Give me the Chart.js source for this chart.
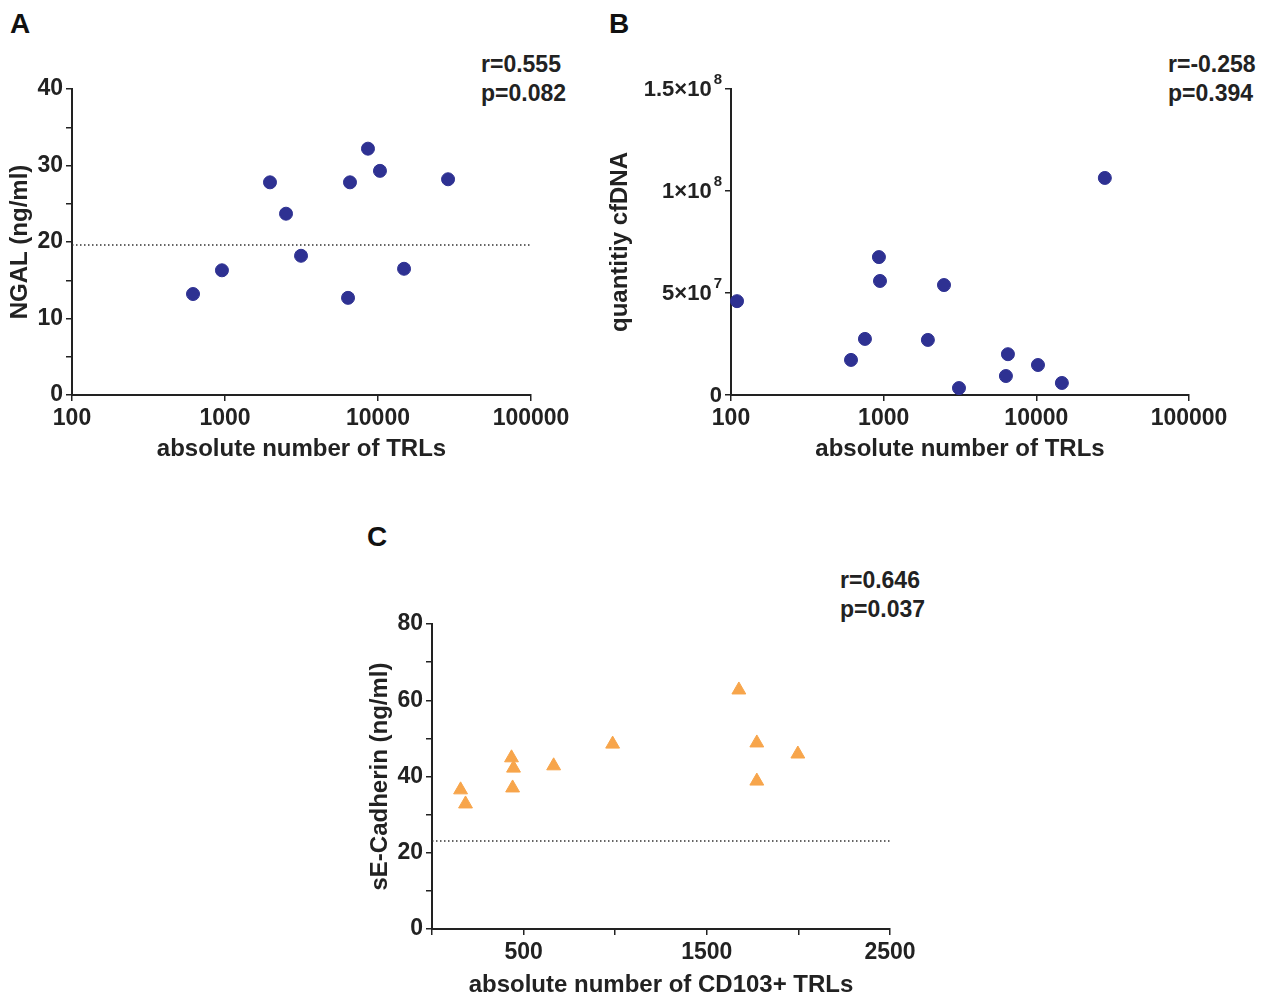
<!DOCTYPE html>
<html lang="en">
<head>
  <meta charset="UTF-8" />
  <title>TRL correlations</title>
  <script src="https://cdn.jsdelivr.net/npm/chart.js"></script>
  <style>
    body {
      margin: 0;
      width: 1272px;
      height: 993px;
      overflow: hidden;
      background: #fff;
      font-family: 'Liberation Sans', Arial, sans-serif;
      color: #222;
      position: relative;
    }
    canvas { position: absolute; }
    .letter {
      position: absolute;
      font-size: 28px;
      line-height: 28px;
      font-weight: bold;
      color: #111;
    }
    .stats {
      position: absolute;
      font-size: 23px;
      line-height: 29px;
      font-weight: bold;
      color: #222;
      white-space: nowrap;
    }
  </style>
</head>
<body>
  <div class="letter" style="left:10px; top:10px;">A</div>
  <div class="letter" style="left:609px; top:10px;">B</div>
  <div class="letter" style="left:367px; top:523px;">C</div>

  <div class="stats" style="left:481px; top:50px;">r=0.555<br>p=0.082</div>
  <div class="stats" style="left:1168px; top:50px;">r=-0.258<br>p=0.394</div>
  <div class="stats" style="left:840px; top:566px;">r=0.646<br>p=0.037</div>

  <canvas id="chartA" width="600" height="470" style="left:0; top:0;"></canvas>
  <canvas id="chartB" width="672" height="470" style="left:600px; top:0;"></canvas>
  <canvas id="chartC" width="580" height="490" style="left:360px; top:510px;"></canvas>

  <script>
    // panel A - NGAL vs TRLs
    const aX = [618, 955, 1968, 2505, 3140, 6370, 6560, 8600, 10300, 14800, 28700];
    const aY = [13.2, 16.3, 27.8, 23.7, 18.2, 12.7, 27.8, 32.2, 29.3, 16.5, 28.2];
    const aCutoff = 19.6;

    // panel B - cfDNA vs TRLs
    const bX = [109.5, 611, 754, 931, 946, 1948, 2484, 3114, 6320, 6515, 10250, 14700, 28100];
    const bY = [4.6e7, 1.72e7, 2.75e7, 6.76e7, 5.59e7, 2.7e7, 5.39e7, 3.4e6, 9.3e6, 2.0e7, 1.47e7, 5.9e6, 1.064e8];
    const bYTickValues = [0, 5e7, 1e8, 1.5e8];
    const bYTickBase = ['0', '5×10', '1×10', '1.5×10'];
    const bYTickExp = ['', '7', '8', '8'];

    // panel C - sE-Cadherin vs CD103+ TRLs
    const cX = [156, 183, 434, 445, 440, 664, 986, 1675, 1773, 1773, 1997];
    const cY = [36.5, 32.8, 44.9, 42.2, 37.0, 42.8, 48.5, 62.7, 48.8, 38.8, 45.9];
    const cCutoff = 23.1;
    const cXLabels = [500, 1500, 2500];

    const logTicks = [100, 1000, 10000, 100000];

    const ink = '#222';
    const blue = '#2E3192';
    const orange = '#F7A54B';
    const family = "'Liberation Sans', Arial, sans-serif";
    const tickFont = { family: family, size: 23, weight: 'bold' };
    const titleFont = { family: family, size: 24, weight: 'bold' };
    const tickLen = 6;
    const tickPad = 3;

    Chart.defaults.animation = false;
    Chart.defaults.color = ink;

    function toPoints(xs, ys) {
      return xs.map((x, i) => ({ x: x, y: ys[i] }));
    }

    function axisStyle() {
      return {
        grid: { display: true, drawOnChartArea: false, drawTicks: true, tickLength: tickLen, color: ink, lineWidth: 1.5 },
        border: { display: true, color: ink, width: 2 }
      };
    }

    function cutoffLine(x0, x1, y) {
      return {
        type: 'line',
        data: [{ x: x0, y: y }, { x: x1, y: y }],
        borderColor: '#333',
        borderWidth: 1.5,
        borderDash: [1.5, 2.5],
        pointRadius: 0,
        clip: false
      };
    }

    // y labels with a raised exponent for panel B (1×10^8 etc.)
    const expLabels = {
      id: 'expLabels',
      afterDraw(chart) {
        const ctx = chart.ctx;
        const y = chart.scales.y;
        const right = y.right - tickLen - tickPad;
        ctx.save();
        ctx.fillStyle = ink;
        ctx.textAlign = 'right';
        ctx.textBaseline = 'middle';
        bYTickValues.forEach((v, i) => {
          const py = y.getPixelForValue(v);
          let x = right;
          if (bYTickExp[i]) {
            ctx.font = 'bold 15px ' + family;
            ctx.fillText(bYTickExp[i], x, py - 9);
            x -= ctx.measureText(bYTickExp[i]).width + 2;
          }
          ctx.font = 'bold 22px ' + family;
          ctx.fillText(bYTickBase[i], x, py + 1);
        });
        ctx.restore();
      }
    };

    function makeChart(id, datasets, xScale, yScale, pad, yWidth, xHeight, plugins) {
      return new Chart(document.getElementById(id), {
        type: 'scatter',
        data: { datasets: datasets },
        plugins: plugins || [],
        options: {
          responsive: false,
          layout: { padding: pad },
          plugins: { legend: { display: false }, tooltip: { enabled: false } },
          scales: {
            x: Object.assign(axisStyle(), xScale, {
              afterFit: s => { s.height = xHeight; }
            }),
            y: Object.assign(axisStyle(), yScale, {
              afterFit: s => { s.width = yWidth; }
            })
          }
        }
      });
    }

    function logX(title) {
      return {
        type: 'logarithmic',
        min: 100,
        max: 100000,
        afterBuildTicks: s => { s.ticks = logTicks.map(v => ({ value: v })); },
        ticks: { font: tickFont, color: ink, padding: 4, maxRotation: 0, autoSkip: false, callback: v => String(v) },
        title: { display: true, text: title, font: titleFont, color: ink, padding: { top: 0, bottom: 6 } }
      };
    }

    // A
    makeChart('chartA', [
      cutoffLine(100, 100000, aCutoff),
      { data: toPoints(aX, aY), backgroundColor: blue, borderColor: blue, pointRadius: 6.5, pointStyle: 'circle', clip: false }
    ],
    logX('absolute number of TRLs'),
    {
      min: 0, max: 40,
      ticks: { stepSize: 5, autoSkip: false, font: tickFont, color: ink, padding: tickPad, callback: v => (v % 10 === 0 ? String(v) : '') },
      title: { display: true, text: 'NGAL (ng/ml)', font: titleFont, color: ink, padding: { top: 6, bottom: 0 } }
    },
    { top: 89, right: 69, left: 0, bottom: 0 }, 72, 75);

    // B
    makeChart('chartB', [
      { data: toPoints(bX, bY), backgroundColor: blue, borderColor: blue, pointRadius: 6.5, pointStyle: 'circle', clip: false }
    ],
    logX('absolute number of TRLs'),
    {
      min: 0, max: 1.5e8,
      afterBuildTicks: s => { s.ticks = bYTickValues.map(v => ({ value: v })); },
      ticks: { autoSkip: false, font: tickFont, color: ink, padding: tickPad, callback: () => '' },
      title: { display: true, text: 'quantitiy cfDNA', font: titleFont, color: ink, padding: { top: 6, bottom: 0 } }
    },
    { top: 89, right: 83, left: 0, bottom: 0 }, 131, 75, [expLabels]);

    // C
    makeChart('chartC', [
      cutoffLine(0, 2500, cCutoff),
      { data: toPoints(cX, cY), backgroundColor: orange, borderColor: orange, pointRadius: 8, pointStyle: 'triangle', clip: false }
    ],
    {
      type: 'linear',
      min: 0, max: 2500,
      ticks: { stepSize: 500, autoSkip: false, maxRotation: 0, font: tickFont, color: ink, padding: 4, callback: v => (cXLabels.includes(v) ? String(v) : '') },
      title: { display: true, text: 'absolute number of CD103+ TRLs', font: titleFont, color: ink, padding: { top: 0, bottom: 0 } }
    },
    {
      min: 0, max: 80,
      ticks: { stepSize: 10, autoSkip: false, font: tickFont, color: ink, padding: tickPad, callback: v => (v % 20 === 0 ? String(v) : '') },
      title: { display: true, text: 'sE-Cadherin (ng/ml)', font: titleFont, color: ink, padding: { top: 6, bottom: 0 } }
    },
    { top: 114, right: 50, left: 0, bottom: 0 }, 72, 71);
  </script>
</body>
</html>
